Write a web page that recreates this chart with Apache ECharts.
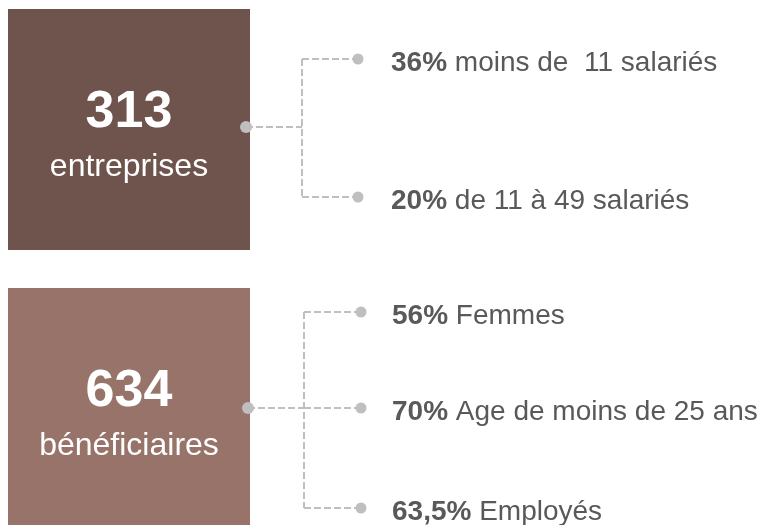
<!DOCTYPE html>
<html>
<head>
<meta charset="utf-8">
<script src="https://cdn.jsdelivr.net/npm/echarts@6/dist/echarts.min.js"></script>
<style>
html,body{margin:0;padding:0;background:#ffffff;}
#chart{width:762px;height:525px;}
</style>
</head>
<body>
<div id="chart"></div>
<script>
// ---- data ----
const totals = [313, 634];
const totalLabels = ['entreprises', 'bénéficiaires'];
const pctLabels = [['36%', '20%'], ['56%', '70%', '63,5%']];
const itemLabels = [['moins de  11 salariés', 'de 11 à 49 salariés'], ['Femmes', 'Age de moins de 25 ans', 'Employés']];

// ---- layout (pixel space of the hidden axes) ----
const layout = {
  boxLeft: 8, boxRight: 250, boxH: 241,
  boxTop: [9, 288],
  boxColors: ['#6E544C', '#98736A'],
  numOffset: 104, labelOffset: 158,
  hubY: [127, 408],
  startX: [246, 248],
  spineX: [302, 304],
  dotX: [358, 361],
  itemY: [[59, 197], [312, 408, 508]],
  textX: [391, 392],
  textDy: 4
};
const FONT = '"Liberation Sans", Arial, Helvetica, sans-serif';
const LINE = '#BFBFBF';
const TXT = '#595959';

const chart = echarts.init(document.getElementById('chart'), null, {renderer: 'canvas'});

function renderItem(params, api) {
  const g = api.value(0);
  const c = (x, y) => api.coord([x, y]);
  const children = [];
  const top = layout.boxTop[g];
  const p0 = c(layout.boxLeft, top);
  const p1 = c(layout.boxRight, top + layout.boxH);
  children.push({type: 'rect', shape: {x: p0[0], y: p0[1], width: p1[0] - p0[0], height: p1[1] - p0[1]},
    style: {fill: layout.boxColors[g]}});
  const cx = (layout.boxLeft + layout.boxRight) / 2;
  const pn = c(cx, top + layout.numOffset);
  children.push({type: 'text', x: pn[0], y: pn[1], style: {text: String(api.value(1)), fill: '#ffffff',
    fontSize: 52, fontWeight: 'bold', fontFamily: FONT, align: 'center', verticalAlign: 'middle'}});
  const pl = c(cx, top + layout.labelOffset);
  children.push({type: 'text', x: pl[0], y: pl[1], style: {text: totalLabels[g], fill: '#ffffff',
    fontSize: 32, fontFamily: FONT, align: 'center', verticalAlign: 'middle'}});

  const ys = layout.itemY[g];
  const hub = c(layout.startX[g], layout.hubY[g]);
  const spineH = c(layout.spineX[g], layout.hubY[g]);
  const dash = {stroke: LINE, lineWidth: 2, lineDash: [7, 3], fill: null};
  children.push({type: 'polyline', shape: {points: [hub, spineH]}, style: dash});
  const sTop = c(layout.spineX[g], ys[0]);
  const sBot = c(layout.spineX[g], ys[ys.length - 1]);
  children.push({type: 'polyline', shape: {points: [sTop, sBot]}, style: dash});
  ys.forEach((y, i) => {
    const a = c(layout.spineX[g], y);
    const b = c(layout.dotX[g], y);
    children.push({type: 'polyline', shape: {points: [a, b]}, style: dash});
  });
  children.push({type: 'circle', shape: {cx: hub[0], cy: hub[1], r: 6}, style: {fill: LINE}});
  ys.forEach((y, i) => {
    const b = c(layout.dotX[g], y);
    children.push({type: 'circle', shape: {cx: b[0], cy: b[1], r: 5.5}, style: {fill: LINE}});
    const t = c(layout.textX[g], y + layout.textDy);
    children.push({type: 'text', x: t[0], y: t[1], style: {
      text: '{b|' + pctLabels[g][i] + '} {r|' + itemLabels[g][i] + '}',
      align: 'left', verticalAlign: 'middle',
      rich: {
        b: {fontSize: 28, fontWeight: 'bold', fontFamily: FONT, fill: TXT, color: TXT},
        r: {fontSize: 28, fontFamily: FONT, fill: TXT, color: TXT}
      },
      fontSize: 28, fontFamily: FONT, fill: TXT
    }});
  });
  return {type: 'group', children: children};
}

chart.setOption({
  animation: false,
  backgroundColor: '#ffffff',
  grid: {left: 0, right: 0, top: 0, bottom: 0},
  xAxis: {type: 'value', min: 0, max: 762, show: false},
  yAxis: {type: 'value', min: 0, max: 525, inverse: true, show: false},
  series: [{
    type: 'custom',
    renderItem: renderItem,
    clip: false,
    data: totals.map((v, i) => [i, v])
  }]
});
</script>
</body>
</html>
